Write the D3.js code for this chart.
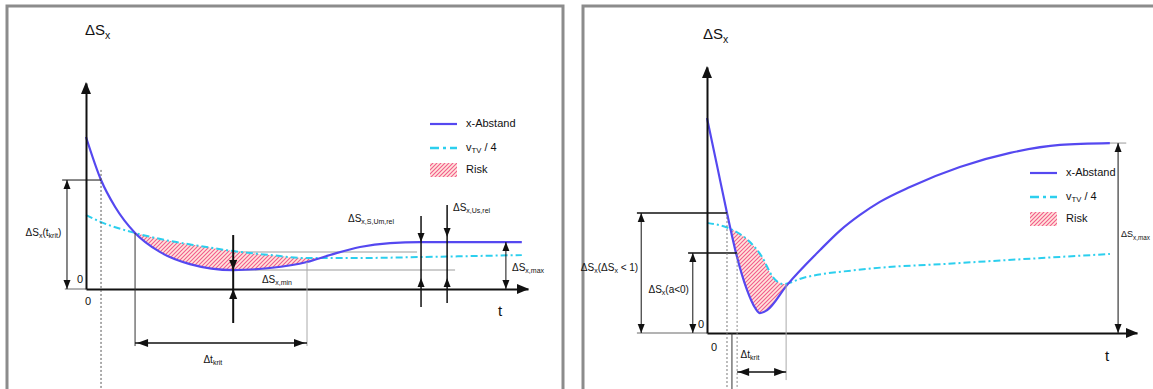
<!DOCTYPE html>
<html>
<head>
<meta charset="utf-8">
<script src="https://cdn.jsdelivr.net/npm/d3@7"></script>
<style>
  body { margin: 0; background: #fff; }
  svg { display: block; }
  text { font-family: "Liberation Sans", Arial, sans-serif; fill: #111; }
</style>
</head>
<body>
<div id="chart"></div>
<script>
// left panel: following, gap over time
const leftT   = [0, 3.4, 6.6, 11.1, 16.7, 23.5, 33.3, 41.6, 50.0, 55.2, 62.0, 68.8, 75.6, 98.6];
const leftGap = [73.8, 52.9, 39.8, 27.2, 18.0, 12.1, 9.2, 10.2, 13.1, 16.5, 20.4, 22.3, 22.8, 22.8];
const leftVT  = [0, 3.4, 11.1, 19.0, 25.8, 33.3, 41.6, 50.0, 59.7, 75.6, 98.6];
const leftVtv = [35.9, 32.5, 27.2, 23.3, 20.9, 18.4, 16.5, 15.0, 15.0, 15.5, 16.5];
// right panel: cut-in
const rightT   = [0, 2.3, 4.65, 6.74, 9.3, 11.2, 12.3, 14.0, 18.6, 26.3, 31.0, 35.5, 40.2, 47.2, 58.8, 70.5, 82.1, 93.7];
const rightGap = [80.8, 63.2, 45.1, 30.1, 16.2, 9.4, 7.5, 8.6, 18.0, 31.2, 38.6, 44.3, 49.3, 54.9, 62.4, 67.7, 70.7, 71.4];
const rightVT  = [0, 6.0, 10.0, 12.8, 15.3, 17.7, 22.3, 34.9, 58.8, 82.1, 93.7];
const rightVtv = [41.4, 38.7, 34.2, 28.6, 21.1, 18.4, 20.7, 23.7, 26.3, 28.6, 29.7];

const W = 1153, H = 389;
const gapColor = '#5548f0';
const vtvColor = '#2ccfee';

const svg = d3.select('#chart').append('svg')
  .attr('width', W)
  .attr('height', H);

const defs = svg.append('defs');
const pat = defs.append('pattern')
  .attr('id', 'hatch')
  .attr('patternUnits', 'userSpaceOnUse')
  .attr('width', 4)
  .attr('height', 4);
pat.append('rect').attr('width', 4).attr('height', 4).attr('fill', '#ffe6dc');
pat.append('path').attr('d', 'M-1,1 L1,-1 M0,4 L4,0 M3,5 L5,3')
  .attr('stroke', '#f35a8c').attr('stroke-width', 1.1);

// panel frames
svg.append('path').attr('d', 'M7,389 V6 H563 V389')
  .attr('fill', 'none').attr('stroke', '#8c8c8c').attr('stroke-width', 3);
svg.append('path').attr('d', 'M583,389 V6 H1153')
  .attr('fill', 'none').attr('stroke', '#8c8c8c').attr('stroke-width', 3);

function head(g, x, y, dir, len = 9, w = 3.5) {
  const pts = {
    up: [[x, y], [x - w, y + len], [x + w, y + len]],
    down: [[x, y], [x - w, y - len], [x + w, y - len]],
    left: [[x, y], [x + len, y - w], [x + len, y + w]],
    right: [[x, y], [x - len, y - w], [x - len, y + w]]
  }[dir];
  g.append('path').attr('d', 'M' + pts.join('L') + 'Z').attr('fill', '#111');
}

function seg(g, x1, y1, x2, y2, color = '#111', width = 1, dash = null) {
  g.append('line')
    .attr('x1', x1).attr('y1', y1).attr('x2', x2).attr('y2', y2)
    .attr('stroke', color).attr('stroke-width', width)
    .attr('stroke-dasharray', dash);
}

// parts: [text, isSub]
function label(g, x, y, parts, size = 10, anchor = 'start') {
  const t = g.append('text')
    .attr('x', x).attr('y', y)
    .attr('font-size', size)
    .attr('text-anchor', anchor)
    .attr('dominant-baseline', 'middle');
  let down = false;
  parts.forEach(p => {
    const s = t.append('tspan').text(p[0]);
    if (p[1] && !down) { s.attr('dy', size * 0.3); down = true; }
    else if (!p[1] && down) { s.attr('dy', -size * 0.3); down = false; }
    if (p[1]) s.attr('font-size', size * 0.7);
  });
}

function panel(id, x, y, tGap, gap, tVtv, vtv) {
  const g = svg.append('g');
  const gapPts = tGap.map((t, i) => [t, gap[i]]);
  const vtvPts = tVtv.map((t, i) => [t, vtv[i]]);

  // risk: below the v/4 line and above the gap line
  defs.append('clipPath').attr('id', 'above-' + id)
    .append('path')
    .attr('d', d3.area().x(d => x(d[0])).y0(y(100)).y1(d => y(d[1]))
      .curve(d3.curveMonotoneX)(gapPts));
  g.append('path')
    .attr('d', d3.area().x(d => x(d[0])).y0(y(0)).y1(d => y(d[1]))
      .curve(d3.curveMonotoneX)(vtvPts))
    .attr('fill', 'url(#hatch)')
    .attr('clip-path', `url(#above-${id})`);

  g.append('path')
    .attr('d', d3.line().x(d => x(d[0])).y(d => y(d[1])).curve(d3.curveMonotoneX)(vtvPts))
    .attr('fill', 'none').attr('stroke', vtvColor).attr('stroke-width', 2)
    .attr('stroke-dasharray', '7,3,2,3');
  g.append('path')
    .attr('d', d3.line().x(d => x(d[0])).y(d => y(d[1])).curve(d3.curveMonotoneX)(gapPts))
    .attr('fill', 'none').attr('stroke', gapColor).attr('stroke-width', 2.2);

  // axes without ticks, arrow heads at the ends
  g.append('g')
    .attr('transform', `translate(0,${y(0)})`)
    .call(d3.axisBottom(x).tickValues([]).tickSizeOuter(0))
    .call(a => a.select('.domain').attr('stroke', '#111').attr('stroke-width', 2));
  g.append('g')
    .attr('transform', `translate(${x(0)},0)`)
    .call(d3.axisLeft(y).tickValues([]).tickSizeOuter(0))
    .call(a => a.select('.domain').attr('stroke', '#111').attr('stroke-width', 2));
  head(g, x(100) + 1, y(0), 'right', 12, 5);
  head(g, x(0), y(100) - 1, 'up', 12, 5);
  return g;
}

function legend(g, lx, ly) {
  seg(g, lx, ly, lx + 27, ly, gapColor, 2.2);
  label(g, lx + 36, ly, [['x-Abstand']], 11);
  seg(g, lx, ly + 24, lx + 27, ly + 24, vtvColor, 2.5, '9,4,3,4');
  label(g, lx + 36, ly + 24, [['v'], ['TV', 1], [' / 4']], 11);
  g.append('rect').attr('x', lx).attr('y', ly + 39).attr('width', 27).attr('height', 14)
    .attr('fill', 'url(#hatch)');
  label(g, lx + 36, ly + 46, [['Risk']], 11);
}

// ---------- left panel ----------
const xL = d3.scaleLinear().domain([0, 100]).range([86, 528]);
const yL = d3.scaleLinear().domain([0, 100]).range([289, 83]);

const gLb = svg.append('g');
seg(gLb, xL(33.3), yL(18.0), xL(74.9), yL(18.0), '#cdcdcd', 2);
seg(gLb, xL(33.3), yL(9.2), xL(83.5), yL(9.2), '#cdcdcd', 2);
seg(gLb, xL(-4.8), yL(0), xL(0), yL(0), '#9a9a9a', 1.5);

const gL = panel('l', xL, yL, leftT, leftGap, leftVT, leftVtv);

label(gL, 85, 31, [['ΔS'], ['x', 1]], 15);
label(gL, xL(0) - 3, 280, [['0']], 11, 'end');
label(gL, xL(0) + 2, 302, [['0']], 11, 'middle');
label(gL, 500, 312, [['t']], 15, 'middle');

// Δs_x(t_krit)
seg(gL, xL(-5.4), yL(52.9), xL(3.4), yL(52.9));
seg(gL, xL(-4.3), yL(52.9), xL(-4.3), yL(0));
head(gL, xL(-4.3), yL(52.9), 'up');
head(gL, xL(-4.3), yL(0), 'down');
label(gL, xL(-5.6), yL(27.2), [['ΔS'], ['x', 1], ['(t'], ['krit', 1], [')']], 10, 'end');
seg(gL, xL(3.4), yL(57.8), xL(3.4), H, '#555', 1, '2,2');

// Δt_krit
seg(gL, xL(11.1), yL(27.2), xL(11.1), yL(-27.7), '#333', 1);
seg(gL, xL(50), yL(13.1), xL(50), yL(-27.7), '#aaa', 1);
seg(gL, xL(11.1), yL(-26.2), xL(50), yL(-26.2), '#111', 1.5);
head(gL, xL(11.1) + 2, yL(-26.2), 'left', 11, 4);
head(gL, xL(50) - 2, yL(-26.2), 'right', 11, 4);
label(gL, xL(28.7), yL(-34.5), [['Δt'], ['krit', 1]], 10, 'middle');

// Δs_x,min
seg(gL, xL(33.3), yL(26.2), xL(33.3), yL(-16.5), '#111', 2);
head(gL, xL(33.3), yL(9.2), 'down', 10, 4);
head(gL, xL(33.3), yL(0), 'up', 10, 4);
label(gL, xL(39.8), yL(4.4), [['ΔS'], ['x,min', 1]], 10);

// Δs_x,S,Um,rel and Δs_x,Us,rel
seg(gL, xL(75.8), yL(35.4), xL(75.8), yL(-8.7), '#111', 1.5);
head(gL, xL(75.8), yL(22.8), 'down');
head(gL, xL(75.8), yL(5.3), 'up');
seg(gL, xL(81.7), yL(40.8), xL(81.7), yL(-6.8), '#111', 1.5);
head(gL, xL(81.7), yL(25.2), 'down');
head(gL, xL(81.7), yL(5.3), 'up');
label(gL, 348, 219, [['ΔS'], ['x,S,Um,rel', 1]], 10);
label(gL, 453, 208, [['ΔS'], ['x,Us,rel', 1]], 10);

// Δs_x,max
seg(gL, xL(95), yL(22.8), xL(95), yL(0), '#111', 1);
head(gL, xL(95), yL(22.8), 'up');
head(gL, xL(95), yL(0), 'down');
label(gL, 512, 268, [['ΔS'], ['x,max', 1]], 10);

legend(gL, 430, 124);

// ---------- right panel ----------
const xR = d3.scaleLinear().domain([0, 100]).range([707, 1137]);
const yR = d3.scaleLinear().domain([0, 100]).range([333, 67]);

const gRb = svg.append('g');
seg(gRb, xR(-16.3), yR(0), xR(0), yR(0), '#9a9a9a', 1.5);

const gR = panel('r', xR, yR, rightT, rightGap, rightVT, rightVtv);

label(gR, 703, 35, [['ΔS'], ['x', 1]], 15);
label(gR, xR(0) - 3, 325, [['0']], 11, 'end');
label(gR, 714, 348, [['0']], 11, 'middle');
label(gR, 1107, 357, [['t']], 15, 'middle');

// Δs_x(Δs_x < 1)
seg(gR, xR(-16.3), yR(45.1), xR(4.65), yR(45.1), '#111', 1.5);
seg(gR, xR(-15.3), yR(45.1), xR(-15.3), yR(0));
head(gR, xR(-15.3), yR(45.1), 'up');
head(gR, xR(-15.3), yR(0), 'down');
label(gR, xR(-16.0), yR(24.4), [['ΔS'], ['x', 1], ['(ΔS'], ['x', 1], [' < 1)']], 10, 'end');

// Δs_x(a<0)
seg(gR, xR(-4.4), yR(30.1), xR(7.0), yR(30.1), '#111', 1.5);
seg(gR, xR(-3.3), yR(30.1), xR(-3.3), yR(0));
head(gR, xR(-3.3), yR(30.1), 'up');
head(gR, xR(-3.3), yR(0), 'down');
label(gR, xR(-4.2), yR(16.2), [['ΔS'], ['x', 1], ['(a<0)']], 10, 'end');

// Δt_krit
seg(gR, xR(4.65), yR(45.1), xR(4.65), H, '#777', 1, '2,2');
seg(gR, xR(5.8), yR(0), xR(5.8), H, '#333', 1);
seg(gR, xR(7.0), yR(30.1), xR(7.0), H, '#888', 1, '2,2');
seg(gR, xR(18.4), yR(18.4), xR(18.4), yR(-17.7), '#aaa', 1);
seg(gR, xR(7.0), yR(-14.7), xR(18.4), yR(-14.7), '#111', 1.5);
head(gR, xR(7.0) + 1, yR(-14.7), 'left', 11, 4);
head(gR, xR(18.4) - 1, yR(-14.7), 'right', 11, 4);
label(gR, xR(10), yR(-8.3), [['Δt'], ['krit', 1]], 10, 'middle');

// Δs_x,max
seg(gR, xR(93.7), yR(71.4), xR(97.5), yR(71.4), '#bbb', 1.5);
seg(gR, xR(95.6), yR(71.4), xR(95.6), yR(0));
head(gR, xR(95.6), yR(71.4), 'up');
head(gR, xR(95.6), yR(0), 'down');
label(gR, 1121, yR(36.8), [['ΔS'], ['x,max', 1]], 9);

legend(gR, 1030, 173);
</script>
</body>
</html>
